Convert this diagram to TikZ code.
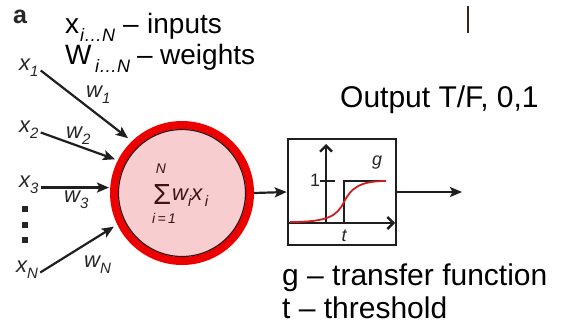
\documentclass[tikz,border=0pt]{standalone}
\usepackage{graphicx}
\usepackage{fontspec}
\setmainfont{Liberation Sans}
\usetikzlibrary{arrows.meta}
\newcommand{\lsub}[2]{\raisebox{-0.3em}{\fontsize{#1}{#1}\selectfont #2}}
\newcommand{\pbox}[2]{\makebox[#1][l]{#2}}
\definecolor{ringred}{RGB}{236,0,0}
\definecolor{cellpink}{RGB}{247,205,208}
\definecolor{darkbrown}{RGB}{60,20,20}
\definecolor{sigred}{RGB}{205,30,30}
\begin{document}
\begin{tikzpicture}[x=1pt,y=-1pt,
  arr/.style={-{Stealth[length=12pt,width=10pt,inset=2.5pt]}, line width=2.2pt, black!88},
  barb/.style={-{Straight Barb[length=6pt,width=12pt]}, line width=2.4pt, black!88},
  lab/.style={font=\fontsize{22}{22}\selectfont\itshape, inner sep=1pt, anchor=base west, text=black!85},
  big/.style={font=\fontsize{30}{30}\selectfont, inner sep=0pt, anchor=base west},
  top/.style={font=\fontsize{28}{28}\selectfont, inner sep=0pt, anchor=base west},
  small/.style={font=\fontsize{18}{18}\selectfont, inner sep=0pt, text=black!85},
  sumtxt/.style={text=darkbrown, inner sep=0pt}]
\useasboundingbox (0,0) rectangle (561,327);

% header texts
\node[font=\fontsize{25}{25}\selectfont\bfseries, inner sep=0pt, anchor=base west, text=black!85] (lbla) at (13,23) {a};
\node[top] (tin) at (65,33) {\pbox{15pt}{x}\pbox{43pt}{\lsub{18}{\itshape i…N}}\pbox{24pt}{–}inputs};
\node[top] (tw) at (65,64) {\pbox{30pt}{W}\pbox{42pt}{\lsub{18}{\itshape i…N}}\pbox{23pt}{–}weights};

% neuron
\node[circle, draw=ringred, line width=8pt, fill=cellpink, minimum size=136pt, inner sep=0pt] (neuron) at (182,193) {};
\draw[line width=1.2pt, darkbrown] (neuron.center) circle (63.5);
\node[sumtxt] (sigma) at (162,194) {\resizebox{18pt}{20pt}{Σ}};
\node[sumtxt, font=\fontsize{14}{14}\selectfont\itshape, anchor=base] (supN) at (161,173) {N};
\node[sumtxt, font=\fontsize{14}{14}\selectfont\itshape, anchor=base] (subi) at (164,223) {i\,=\,1};
\node[sumtxt, font=\fontsize{22}{22}\selectfont\itshape, anchor=base west] (wx) at (172,200) {w\lsub{15}{i}x\lsub{15}{\,i}};

% inputs
\node[lab] (x1) at (18,70) {x\lsub{15}{1}};
\node[lab] (x2) at (18,132) {x\lsub{15}{2}};
\node[lab] (x3) at (18,187) {x\lsub{15}{3}};
\node[lab] (xN) at (15,272) {x\lsub{15}{N}};
\node[lab] (w1) at (85,97) {w\lsub{15}{1}};
\node[lab] (w2) at (65,138) {w\lsub{15}{2}};
\node[lab] (w3) at (63,202) {w\lsub{15}{3}};
\node[lab] (wN) at (83,267) {w\lsub{15}{N}};
\foreach \yy/\nm in {209/d1,224.5/d2,240/d3}
  \node[fill=black!85, minimum size=6pt, inner sep=0pt] (\nm) at (25,\yy) {};

\draw[arr, shorten >=5pt] ([xshift=1pt,yshift=-3pt]x1.east) -- (neuron.134);
\draw[arr, shorten >=3pt] ([xshift=1pt,yshift=-3pt]x2.east) -- (neuron.153);
\draw[arr, shorten >=1pt] ([xshift=1pt,yshift=-3pt]x3.east) -- ([yshift=-3pt]x3.east -| neuron.west);
\draw[arr, shorten >=4pt] ([xshift=1pt,yshift=-3pt]xN.east) -- (neuron.206);

% transfer box
\node[draw=black!88, line width=2.6pt, minimum width=108pt, minimum height=106pt, inner sep=0pt] (tbox) at (342,192) {};
\draw[arr] (neuron.east) -- (tbox.west);
\coordinate (outend) at (462,192);
\draw[arr] (tbox.east) -- (outend);

% graph inside box
\coordinate (orig) at (326,223);
\draw[barb] (tbox.west |- orig) -- (395,223);
\draw[barb] (orig) -- (326,144);
\draw[line width=2.2pt, black!88] (320,181) -- (335,181);
\draw[line width=2.2pt, black!88] (344,223) -- (344,181) -- (386,181);
\draw[line width=1.8pt, sigred] (290,222) .. controls (328,222) and (337,216) .. (344,202) .. controls (351,188) and (360,181) .. (386,181);
\node[small] (one) at (315,180) {1};
\node[small, font=\fontsize{18}{18}\selectfont\itshape] (gl) at (377,163) {g};
\node[small, font=\fontsize{18}{18}\selectfont\itshape] (tl) at (344,236) {t};

% right texts
\node[big] (outtxt) at (340,107) {Output T/F, 0,1};
\node[big] (gtxt) at (282,285) {g – transfer function};
\node[big] (ttxt) at (282,318) {t – threshold};

% stray mark
\draw[line width=1.5pt, black!70!brown] (468,6) -- (468,33);
\end{tikzpicture}
\end{document}
